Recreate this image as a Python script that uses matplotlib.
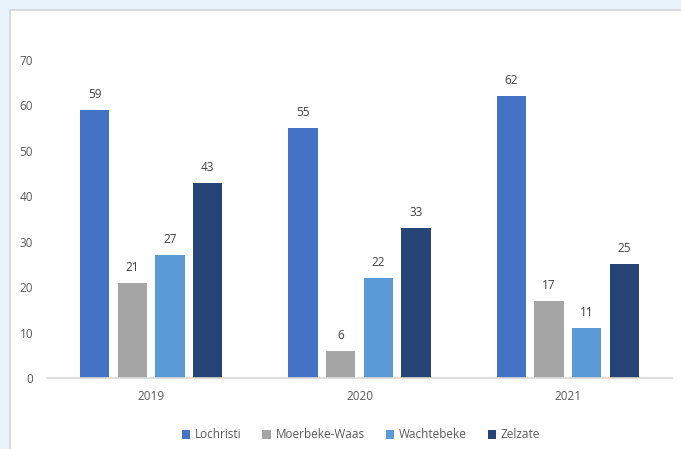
import numpy as np
import matplotlib.pyplot as plt
from matplotlib.patches import Rectangle

years = ['2019', '2020', '2021']
lochristi = [59, 55, 62]
moerbeke = [21, 6, 17]
wachtebeke = [27, 22, 11]
zelzate = [43, 33, 25]

series = {
    'Lochristi': lochristi,
    'Moerbeke-Waas': moerbeke,
    'Wachtebeke': wachtebeke,
    'Zelzate': zelzate,
}
colors = ['#4472C4', '#A5A5A5', '#5B9BD5', '#264478']

plt.rcParams['font.family'] = ['Open Sans', 'DejaVu Sans']

fig = plt.figure(figsize=(6.81, 4.49), dpi=100, facecolor='#E8F3FB')
# white chart area with thin grey border (behind the axes)
fig.patches.append(Rectangle((10 / 681, -0.01), 1.0, 1 - 10 / 449 + 0.01,
                             transform=fig.transFigure, facecolor='white',
                             edgecolor='#D4D4D4', linewidth=1.2, zorder=-1))

ax = fig.add_axes([47 / 681, 71 / 449, 625 / 681, 318 / 449])
ax.set_facecolor('none')

x = np.arange(len(years))
step = 0.181
width = 0.141
for i, (name, vals) in enumerate(series.items()):
    pos = x + (i - 1.5) * step
    bars = ax.bar(pos, vals, width=width, color=colors[i], label=name, zorder=2)
    for b, v in zip(bars, vals):
        ax.text(b.get_x() + b.get_width() / 2, v + 2.0, str(v), ha='center',
                va='bottom', fontsize=8.5, color='#404040')

ax.set_xlim(-0.5, 2.5)
ax.set_ylim(0, 70)
ax.set_yticks(range(0, 71, 10))
ax.set_xticks(x)
ax.set_xticklabels(years)
for s in ['top', 'right', 'left']:
    ax.spines[s].set_visible(False)
ax.spines['bottom'].set_color('#D9D9D9')
ax.spines['bottom'].set_linewidth(1.2)
ax.tick_params(axis='both', length=0, labelsize=8.5, labelcolor='#595959')
ax.tick_params(axis='y', pad=10)
ax.tick_params(axis='x', pad=9)

ax.legend(loc='center', bbox_to_anchor=(361 / 681, 14 / 449), bbox_transform=fig.transFigure,
          ncol=4, frameon=False, fontsize=8.5, handlelength=0.7, handleheight=0.7,
          handletextpad=0.4, columnspacing=1.8, labelcolor='#595959')

fig.savefig('out.png', dpi=100, facecolor=fig.get_facecolor())
